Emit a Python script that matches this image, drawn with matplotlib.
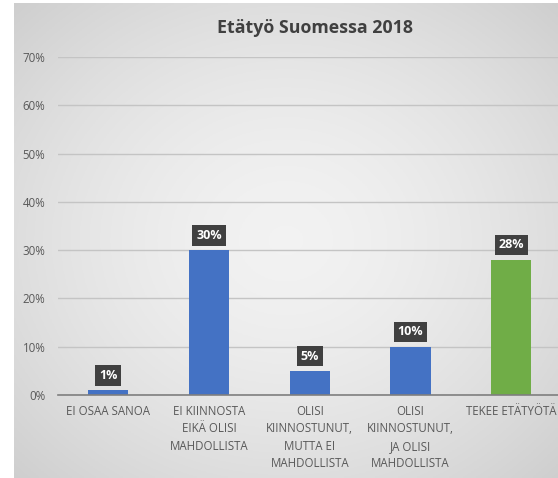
import numpy as np
import matplotlib.pyplot as plt

categories = ["EI OSAA SANOA",
              "EI KIINNOSTA\nEIKÄ OLISI\nMAHDOLLISTA",
              "OLISI\nKIINNOSTUNUT,\nMUTTA EI\nMAHDOLLISTA",
              "OLISI\nKIINNOSTUNUT,\nJA OLISI\nMAHDOLLISTA",
              "TEKEE ETÄTYÖTÄ"]
values = [0.01, 0.30, 0.05, 0.10, 0.28]
bar_colors = ["#4472C4", "#4472C4", "#4472C4", "#4472C4", "#70AD47"]
yticks = [0, 0.1, 0.2, 0.3, 0.4, 0.5, 0.6, 0.7]

plt.rcParams['font.family'] = ['Open Sans', 'DejaVu Sans']

W, H = 558, 478
fig = plt.figure(figsize=(W / 100, H / 100), dpi=100)
fig.patch.set_facecolor("white")

# chart area background, radial grey gradient
bg = fig.add_axes([14 / W, 0, 1 - 14 / W, 1 - 3 / H])
yy, xx = np.mgrid[-1:1:200j, -1:1:200j]
r = np.sqrt(xx ** 2 + yy ** 2) / np.sqrt(2)
shade = 0.95 - 0.14 * r ** 1.6
bg.imshow(np.dstack([shade] * 3), aspect="auto", extent=[0, 1, 0, 1])
bg.set_axis_off()

ax = fig.add_axes([58 / W, 1 - 395 / H, 503.5 / W, 338 / H])
ax.patch.set_alpha(0)
x = np.arange(len(values))
ax.bar(x, values, width=0.4, color=bar_colors, zorder=3)
ax.set_xlim(-0.5, len(values) - 0.5)
ax.set_ylim(0, 0.7)
ax.set_yticks(yticks)
ax.set_yticklabels([f"{int(round(v * 100))}%" for v in yticks])
ax.yaxis.grid(True, color="#c4c4c4", linewidth=1, zorder=0)
ax.set_xticks(x)
ax.set_xticklabels(categories, fontsize=8.3, color="#595959", linespacing=1.45,
                   va="top")
ax.tick_params(axis="x", length=0, pad=7)
ax.tick_params(axis="y", length=0, pad=9, labelsize=8.3, labelcolor="#595959")
for s in ["top", "right", "left"]:
    ax.spines[s].set_visible(False)
ax.spines["bottom"].set_color("#7f7f7f")
ax.spines["bottom"].set_linewidth(1.2)
ax.spines["bottom"].set_zorder(4)

for xi, v in zip(x, values):
    ax.annotate(f"{int(round(v * 100))}%", (xi, v), xytext=(0, 6),
                textcoords="offset points", ha="center", va="bottom",
                color="white", fontsize=9, fontweight="bold", zorder=5,
                bbox=dict(boxstyle="square,pad=0.3", fc="#404040", ec="none"))

fig.text(315 / W, 1 - 28 / H, "Etätyö Suomessa 2018", ha="center", va="center",
         fontsize=12.8, fontweight="bold", color="#404040")

fig.savefig("out.png", dpi=100)
